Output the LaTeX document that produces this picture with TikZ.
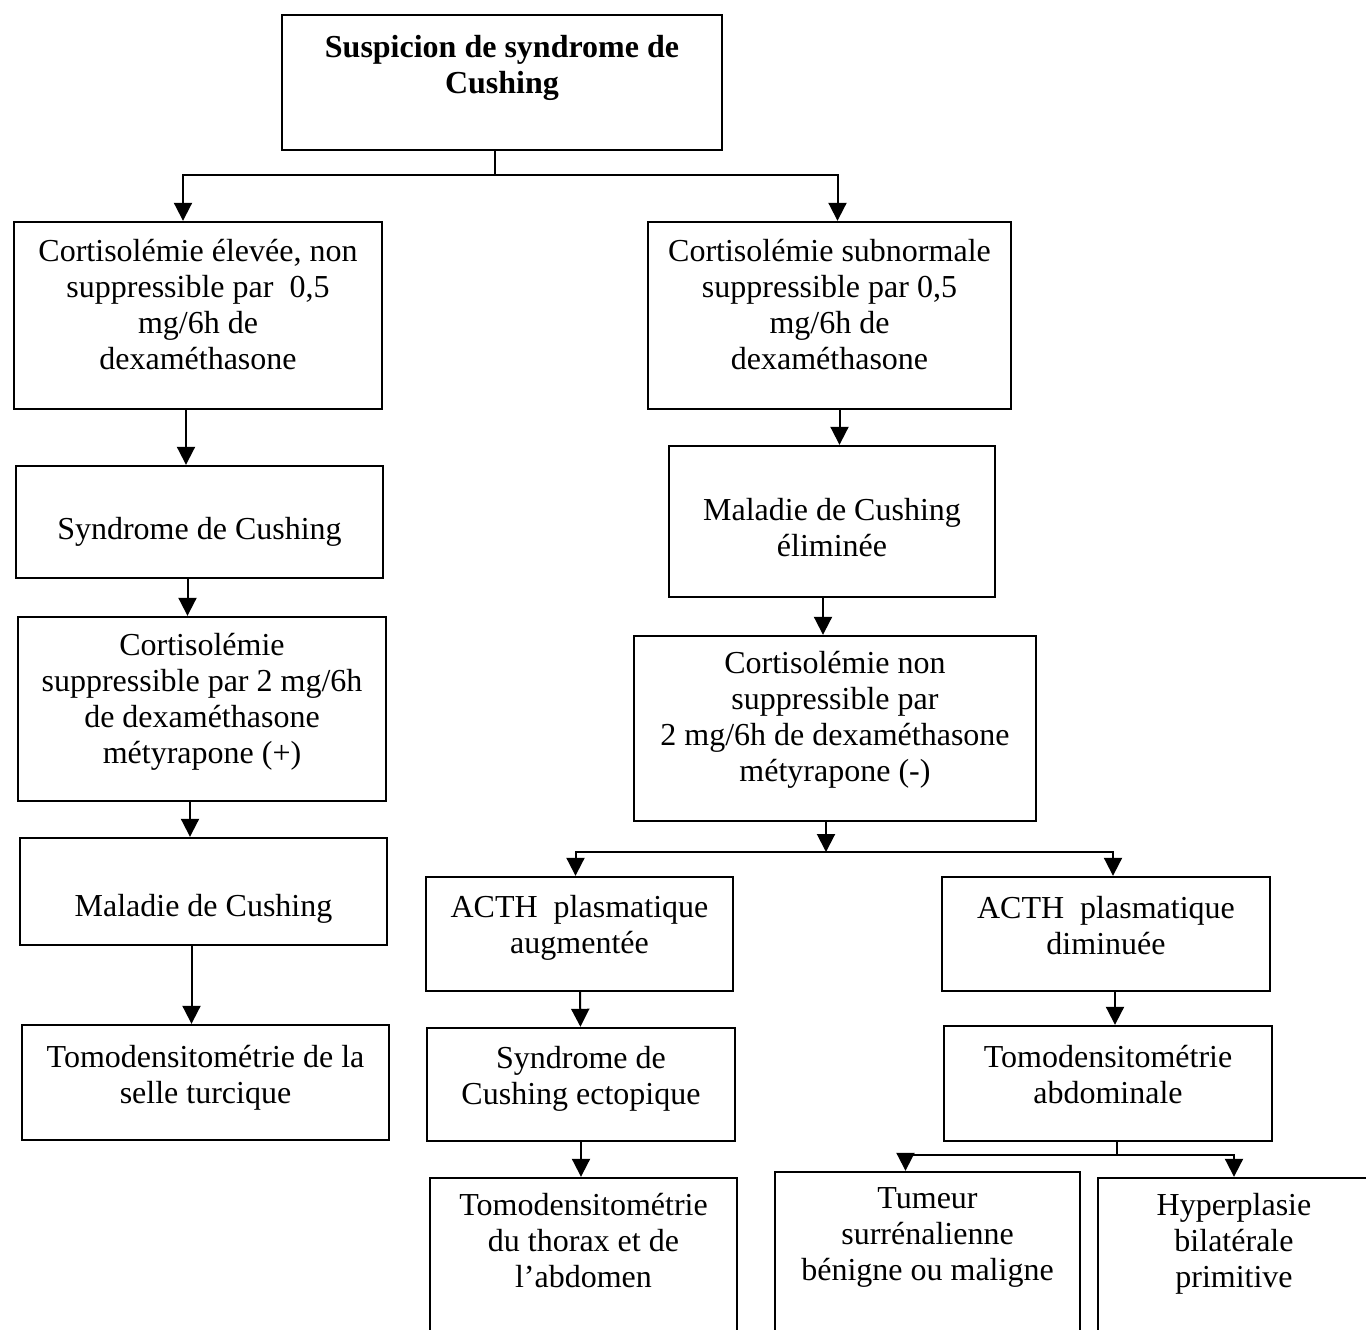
\documentclass[tikz,border=0pt]{standalone}
\usepackage{fontspec}
\setmainfont{Liberation Serif}
\usetikzlibrary{arrows.meta,calc}
\tikzstyle{box}=[draw,line width=1.2pt,align=center,inner sep=0pt,font=\fontsize{16}{18}\selectfont]
\tikzstyle{arr}=[line width=1pt,-{Triangle[length=9pt,width=9pt]}]
\tikzstyle{link}=[line width=1pt]
% invisible struts to move text up or down inside a box
\newcommand{\padtop}[1]{\rule{0pt}{#1}}
\newcommand{\padbot}[1]{\rule[-#1]{0pt}{0pt}}

\begin{document}
\begin{tikzpicture}[x=0.5pt,y=-0.5pt]

    \clip (0,0) rectangle (1366,1329);

    % top
    \node[box, minimum width=220pt, minimum height=67.5pt, font=\fontsize{16}{18}\selectfont\bfseries] (susp) at (502,82.5) {Suspicion de syndrome de\\Cushing\\ \mbox{}};

    % left column
    \node[box, minimum width=184pt, minimum height=93.5pt] (B1) at (198,315.5) {Cortisolémie élevée, non\\suppressible par~~0,5\\mg/6h de\\dexaméthasone\padbot{11pt}};
    \node[box, minimum width=183.5pt, minimum height=56pt] (B2) at (199.5,522) {\padtop{21pt}Syndrome de Cushing};
    \node[box, minimum width=184pt, minimum height=92pt] (B3) at (202,709) {Cortisolémie\\suppressible par 2 mg/6h\\de dexaméthasone\\métyrapone (+)\padbot{11pt}};
    \node[box, minimum width=183.5pt, minimum height=53.5pt] (B4) at (203.5,891.5) {\padtop{28pt}Maladie de Cushing};
    \node[box, minimum width=183.5pt, minimum height=57.5pt] (B5) at (205.5,1082.5) {Tomodensitométrie de la\\selle turcique\padbot{8.5pt}};

    % right column
    \node[box, minimum width=181.5pt, minimum height=93.5pt] (R1) at (829.5,315.5) {Cortisolémie subnormale\\suppressible par 0,5\\mg/6h de\\dexaméthasone\padbot{11pt}};
    \node[box, minimum width=163pt, minimum height=75.5pt] (R2) at (832,521.5) {\padtop{17pt}Maladie de Cushing\\éliminée};
    \node[box, minimum width=201pt, minimum height=92.5pt] (R3) at (835,728.5) {Cortisolémie non\\suppressible par\\2 mg/6h de dexaméthasone\\métyrapone (-)\padbot{12pt}};

    \node[box, minimum width=153.5pt, minimum height=57pt] (up) at (579.5,934) {ACTH~~plasmatique\\augmentée\padbot{9.5pt}};
    \node[box, minimum width=164pt, minimum height=57pt] (down) at (1106,934) {ACTH~~plasmatique\\diminuée\padbot{9pt}};
    \node[box, minimum width=154pt, minimum height=56.5pt] (ecto) at (581,1084.5) {Syndrome de\\Cushing ectopique\padbot{9.5pt}};
    \node[box, minimum width=164pt, minimum height=57.5pt] (abdo) at (1108,1083.5) {Tomodensitométrie\\abdominale\padbot{9pt}};

    \node[box, minimum width=153.5pt, minimum height=80pt] (thorax) at (583.5,1258) {Tomodensitométrie\\du thorax et de\\l’abdomen\\ \mbox{}};
    \node[box, minimum width=152.5pt, minimum height=80pt] (tum) at (927.5,1252) {Tumeur\\surrénalienne\\bénigne ou maligne\\ \mbox{}};
    \node[box, minimum width=136pt, minimum height=80pt] (hyp) at (1234,1258) {Hyperplasie\\bilatérale\\primitive\\ \mbox{}};

    % split points
    \coordinate (s1) at (495,175);
    \coordinate (s2) at (826,852);
    \coordinate (s3) at (1117,1155);

    \draw[link] (s1 |- susp.south) -- (s1);
    \draw[arr] (s1) -| ([xshift=-7.5pt]B1.north);
    \draw[arr] (s1) -| ([xshift=4pt]R1.north);

    \foreach \a/\b in {B1/B2, B2/B3, B3/B4, B4/B5}
        \draw[arr] ([xshift=-6pt]\a.south) -- ([xshift=-6pt]\a.south |- \b.north);

    \draw[arr] ([xshift=5pt]R1.south) -- ([xshift=5pt]R1.south |- R2.north);
    \draw[arr] ([xshift=-4.5pt]R2.south) -- ([xshift=-4.5pt]R2.south |- R3.north);

    \draw[arr] (s2 |- R3.south) -- (s2);
    \draw[arr] (s2) -| ([xshift=-2pt]up.north);
    \draw[arr] (s2) -| ([xshift=3.5pt]down.north);

    \draw[arr] (up) -- (ecto);
    \draw[arr] (ecto) -- (thorax.north -| ecto.south);
    \draw[arr] ([xshift=4.5pt]down.south) -- ([xshift=4.5pt]down.south |- abdo.north);

    \draw[link] (s3 |- abdo.south) -- (s3);
    \draw[arr] (s3) -| ([xshift=-11pt]tum.north);
    \draw[arr] (s3) -| (hyp.north);

\end{tikzpicture}
\end{document}
